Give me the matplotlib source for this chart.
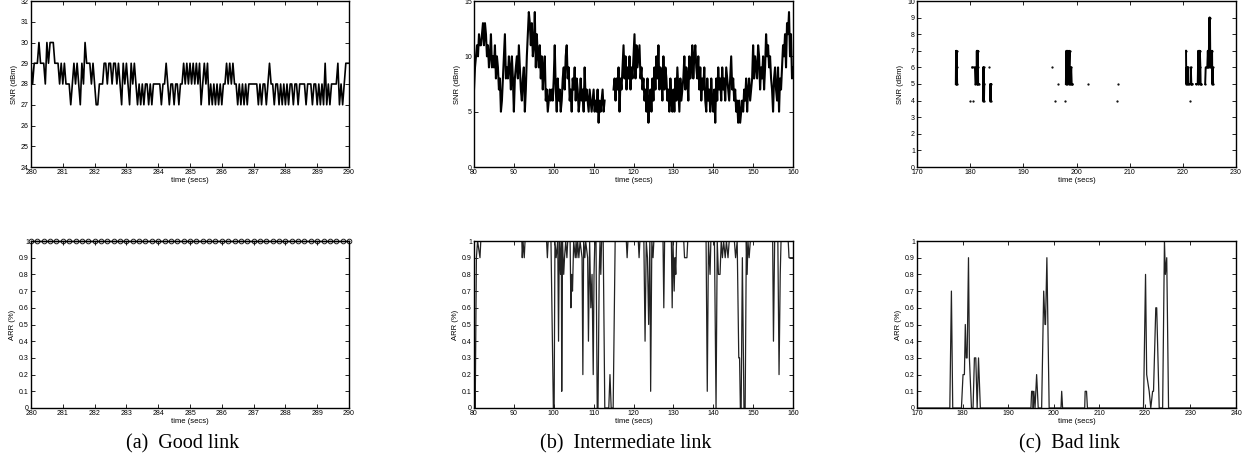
import numpy as np
import matplotlib
matplotlib.use("Agg")
import matplotlib.pyplot as plt

plt.rcParams['font.family'] = ['Liberation Sans', 'DejaVu Sans']

# ---- (a) good link ----
snr_a_t0, snr_a_dt = 280.0, 0.05
snr_a = [29,28,29,29,29,30,29,29,29,28,30,29,30,30,30,29,29,29,28,29,
         28,29,28,28,28,27,28,29,28,29,28,27,29,28,30,29,29,29,28,29,
         28,27,27,28,28,28,29,29,28,29,29,28,29,29,28,29,28,27,29,28,
         29,28,27,29,28,29,28,27,28,27,28,27,28,28,27,28,27,28,28,28,
         28,28,27,28,28,29,28,27,28,28,27,28,28,27,28,28,29,28,29,28,
         29,28,29,28,29,28,29,27,28,29,28,29,27,28,27,28,27,28,27,28,
         27,28,28,29,28,29,28,29,28,28,27,28,27,28,27,28,27,28,28,28,
         28,28,28,27,28,27,28,28,27,28,29,28,28,27,28,28,27,28,27,28,
         27,28,27,28,28,27,28,28,27,28,28,28,28,27,28,28,28,27,28,28,
         27,28,27,28,27,29,27,28,27,28,28,28,28,29,27,28,27,28,29,29,29]
arr_a_t0, arr_a_dt = 280.0, 0.2
arr_a = [1.0] * 51

# ---- (b) intermediate link ----
snr_b_t0, snr_b_dt = 80.0, 0.25
nan = np.nan
snr_b = [7,9,10,11,10,12,11,11,12,13,11,13,12,10,11,9,10,12,9,10,
         9,11,8,10,9,7,8,5,6,8,10,12,8,9,8,10,9,7,10,8,
         5,8,9,10,8,11,9,7,6,8,9,5,7,10,12,14,13,11,13,10,
         11,14,9,12,10,9,11,8,10,7,9,10,6,7,5,6,7,6,7,6,
         8,11,7,5,8,6,7,5,6,8,9,7,10,11,8,9,6,7,5,8,
         7,9,6,8,7,5,6,8,6,7,5,9,6,7,6,5,7,6,5,6,
         7,5,6,5,7,4,6,5,6,7,5,6,nan,nan,nan,nan,nan,nan,nan,nan,
         7,8,6,8,7,9,5,8,7,9,11,8,10,7,9,8,10,7,9,8,
         10,12,8,11,9,10,11,8,9,7,8,6,7,5,8,4,6,7,5,8,
         6,9,7,10,8,11,7,9,8,6,10,7,9,8,6,7,5,8,6,5,
         7,5,8,6,9,7,5,8,6,7,8,10,7,9,8,6,10,8,9,11,
         8,10,11,9,8,10,7,9,6,8,7,9,6,5,8,6,7,5,8,6,
         5,7,4,8,6,9,7,8,6,9,7,8,6,9,8,7,6,8,10,7,
         8,6,7,5,6,4,6,4,5,6,5,7,6,8,5,7,8,6,7,8,
         11,8,10,9,8,11,10,7,9,8,10,7,9,12,10,11,9,10,8,7,
         5,8,9,7,6,9,5,8,7,9,11,10,12,9,13,12,14,10,12,8,9]
arr_b_t = [80.0,80.15,80.3,80.6,80.9,81.5,81.7,92.0,92.1,92.3,92.6,92.8,
           98.2,98.4,98.6,99.3,99.9,100.1,100.3,100.6,101.0,101.2,101.4,101.7,
           101.9,102.0,102.2,102.5,102.7,103.0,103.3,103.5,104.1,104.3,104.5,104.7,
           105.0,105.4,105.6,105.8,106.0,106.3,106.6,107.1,107.3,107.5,107.8,108.0,
           108.5,108.7,109.0,109.3,109.6,109.9,110.1,110.3,110.6,110.9,111.1,111.4,
           111.6,111.8,112.0,112.4,112.8,113.8,114.1,114.4,114.9,115.4,118.2,118.4,
           118.6,121.2,121.4,121.6,122.6,122.9,123.2,123.5,123.8,124.1,124.3,124.6,
           124.9,125.1,127.4,127.6,127.8,129.5,129.7,129.9,130.2,130.4,130.6,130.8,
           131.0,132.6,132.8,133.4,133.6,138.2,138.5,138.8,139.2,139.4,140.3,140.7,
           141.0,141.3,141.7,142.0,142.3,142.6,143.0,143.3,143.7,144.0,145.3,145.6,
           146.0,146.4,146.6,146.8,147.0,147.3,147.7,148.0,148.3,148.5,148.7,149.0,
           149.3,154.9,155.1,155.4,156.2,156.5,156.8,157.0,158.8,159.0,160.0]
arr_b_v = [1.0,0.1,0.0,0.9,1.0,0.9,1.0,1.0,0.9,1.0,0.9,1.0,
           1.0,0.9,1.0,1.0,0.0,0.0,1.0,0.9,1.0,0.4,1.0,0.8,
           1.0,0.1,1.0,0.8,0.9,1.0,0.9,1.0,1.0,0.6,0.8,0.7,
           1.0,0.9,1.0,0.9,1.0,0.9,1.0,0.9,0.2,1.0,0.9,1.0,
           0.9,0.4,1.0,0.6,0.8,0.2,0.8,1.0,1.0,0.0,0.0,0.8,
           1.0,0.8,1.0,1.0,0.0,0.0,0.2,0.0,0.0,1.0,1.0,0.9,
           1.0,1.0,0.9,1.0,1.0,0.4,1.0,0.9,0.5,1.0,0.1,1.0,
           0.9,1.0,1.0,0.6,1.0,1.0,0.6,1.0,0.7,0.9,0.8,1.0,
           1.0,1.0,0.9,0.9,1.0,1.0,0.1,1.0,0.8,1.0,1.0,0.0,
           1.0,0.8,0.8,1.0,0.9,1.0,0.9,1.0,0.9,1.0,1.0,0.9,
           1.0,0.3,0.3,0.0,0.0,0.9,0.0,0.0,1.0,0.8,1.0,0.9,
           1.0,1.0,0.4,1.0,1.0,0.2,0.8,1.0,1.0,0.9,0.9]

# ---- (c) bad link ----
snr_c_t = [177.30,177.35,177.40,177.45,177.50,177.55,nan,
           180.05,nan,180.50,nan,
           180.40,180.90,181.00,181.20,181.25,181.30,181.35,181.40,181.45,181.50,181.60,nan,
           182.40,182.45,182.50,182.55,182.60,182.65,nan,
           183.50,nan,183.75,183.80,183.85,183.90,nan,
           195.40,nan,196.00,nan,196.60,nan,197.90,nan,
           198.00,198.10,198.20,198.25,198.30,198.40,198.50,198.60,198.70,198.75,
           198.80,198.90,199.00,199.10,199.20,nan,
           202.10,nan,207.60,nan,207.80,nan,
           220.60,220.65,220.75,220.80,220.90,221.00,221.10,nan,
           221.30,nan,221.45,221.50,221.60,221.80,nan,
           222.50,222.80,222.90,223.00,223.10,223.15,223.20,223.30,223.35,223.40,nan,
           224.20,224.30,224.60,224.70,224.80,224.90,225.00,225.05,225.10,225.15,
           225.30,225.40,225.50,225.55,225.60,225.70]
snr_c_v = [5,7,5,7,6,5,nan,
           4,nan,4,nan,
           6,6,5,5,7,5,7,6,7,5,5,nan,
           4,6,5,6,4,5,nan,
           6,nan,4,5,4,5,nan,
           6,nan,4,nan,5,nan,4,nan,
           5,7,5,7,6,7,5,6,7,5,
           6,5,6,5,5,nan,
           5,nan,4,nan,5,nan,
           7,5,6,5,6,5,5,nan,
           4,nan,5,6,5,5,nan,
           5,5,7,6,7,5,7,6,5,5,nan,
           5,6,6,7,6,7,9,6,9,7,
           7,6,7,5,6,5]
arr_c_t = [170.0,177.2,177.55,177.84,179.75,180.1,180.4,180.6,180.8,181.0,181.3,181.5,
           181.95,182.3,182.6,182.9,183.2,183.5,183.9,195.0,195.15,195.4,195.5,195.65,
           195.9,196.25,196.6,197.35,197.8,198.1,198.2,198.5,199.0,201.6,201.75,201.95,
           206.8,206.9,207.2,207.4,219.7,220.15,220.4,220.95,221.3,221.7,221.9,222.4,
           222.6,223.15,223.9,224.3,224.5,224.8,225.2,240.0]
arr_c_v = [0.0,0.0,0.7,0.0,0.0,0.2,0.2,0.5,0.3,0.3,0.9,0.3,
           0.0,0.0,0.3,0.3,0.0,0.3,0.0,0.0,0.1,0.1,0.0,0.1,
           0.0,0.2,0.0,0.0,0.7,0.5,0.5,0.9,0.0,0.0,0.1,0.0,
           0.0,0.1,0.1,0.0,0.0,0.8,0.2,0.1,0.0,0.1,0.1,0.6,
           0.6,0.0,0.0,1.0,0.8,0.9,0.0,0.0]

W, H = 1248, 467
fig = plt.figure(figsize=(W / 100, H / 100), dpi=100)

def box(x0, y0, x1, y1):
    return [x0 / W, 1 - y1 / H, (x1 - x0) / W, (y1 - y0) / H]

def style(ax, xlim, xticks, ylim, yticks, ylabel):
    ax.set_xlim(*xlim)
    ax.set_ylim(*ylim)
    ax.set_xticks(xticks)
    ax.set_yticks(yticks)
    ax.set_yticklabels([("%g" % v) for v in yticks])
    ax.tick_params(direction='in', top=True, right=True, length=3, width=0.6,
                   labelsize=5, pad=1.5)
    for s in ax.spines.values():
        s.set_linewidth(1.0)
    ax.set_xlabel("time (secs)", fontsize=5.5, labelpad=0.5)
    ax.set_ylabel(ylabel, fontsize=5.5, labelpad=2)

lefts = [31, 474, 917]
top_y = (1, 167)
bot_y = (241, 408)
tenths = [round(0.1 * i, 1) for i in range(11)]

# (a)
ax = fig.add_axes(box(lefts[0], top_y[0], lefts[0] + 318, top_y[1]))
t = snr_a_t0 + snr_a_dt * np.arange(len(snr_a))
ax.plot(t, snr_a, color='black', lw=1.2)
style(ax, (280, 290), range(280, 291), (24, 32), list(range(24, 33)), "SNR (dBm)")

ax = fig.add_axes(box(lefts[0], bot_y[0], lefts[0] + 318, bot_y[1]))
t = arr_a_t0 + arr_a_dt * np.arange(len(arr_a))
ax.plot(t, arr_a, color='black', lw=1.0, marker='o', markersize=3.4,
        mfc='none', mew=0.6, clip_on=False)
style(ax, (280, 290), range(280, 291), (0, 1), tenths, "ARR (%)")

# (b)
ax = fig.add_axes(box(lefts[1], top_y[0], lefts[1] + 319, top_y[1]))
t = snr_b_t0 + snr_b_dt * np.arange(len(snr_b))
ax.plot(t, snr_b, color='black', lw=1.5)
style(ax, (80, 160), range(80, 161, 10), (0, 15), [0, 5, 10, 15], "SNR (dBm)")

ax = fig.add_axes(box(lefts[1], bot_y[0], lefts[1] + 319, bot_y[1]))
ax.plot(arr_b_t, arr_b_v, color='#222222', lw=0.9)
style(ax, (80, 160), range(80, 161, 10), (0, 1), tenths, "ARR (%)")

# (c)
ax = fig.add_axes(box(lefts[2], top_y[0], lefts[2] + 319, top_y[1]))
ax.plot(snr_c_t, snr_c_v, color='black', lw=1.4, marker='.', markersize=1.2)
style(ax, (170, 230), range(170, 231, 10), (0, 10), list(range(0, 11)), "SNR (dBm)")

ax = fig.add_axes(box(lefts[2], bot_y[0], lefts[2] + 319, bot_y[1]))
ax.plot(arr_c_t, arr_c_v, color='#222222', lw=0.9)
style(ax, (170, 240), range(170, 241, 10), (0, 1), tenths, "ARR (%)")

captions = ["(a)  Good link", "(b)  Intermediate link", "(c)  Bad link"]
for left, cap in zip(lefts, captions):
    fig.text((left + 152) / W, 1 - 444 / H, cap, ha='center', va='center',
             fontsize=14.5, family=['Liberation Serif', 'DejaVu Serif'])

fig.savefig("out.png", dpi=100)
